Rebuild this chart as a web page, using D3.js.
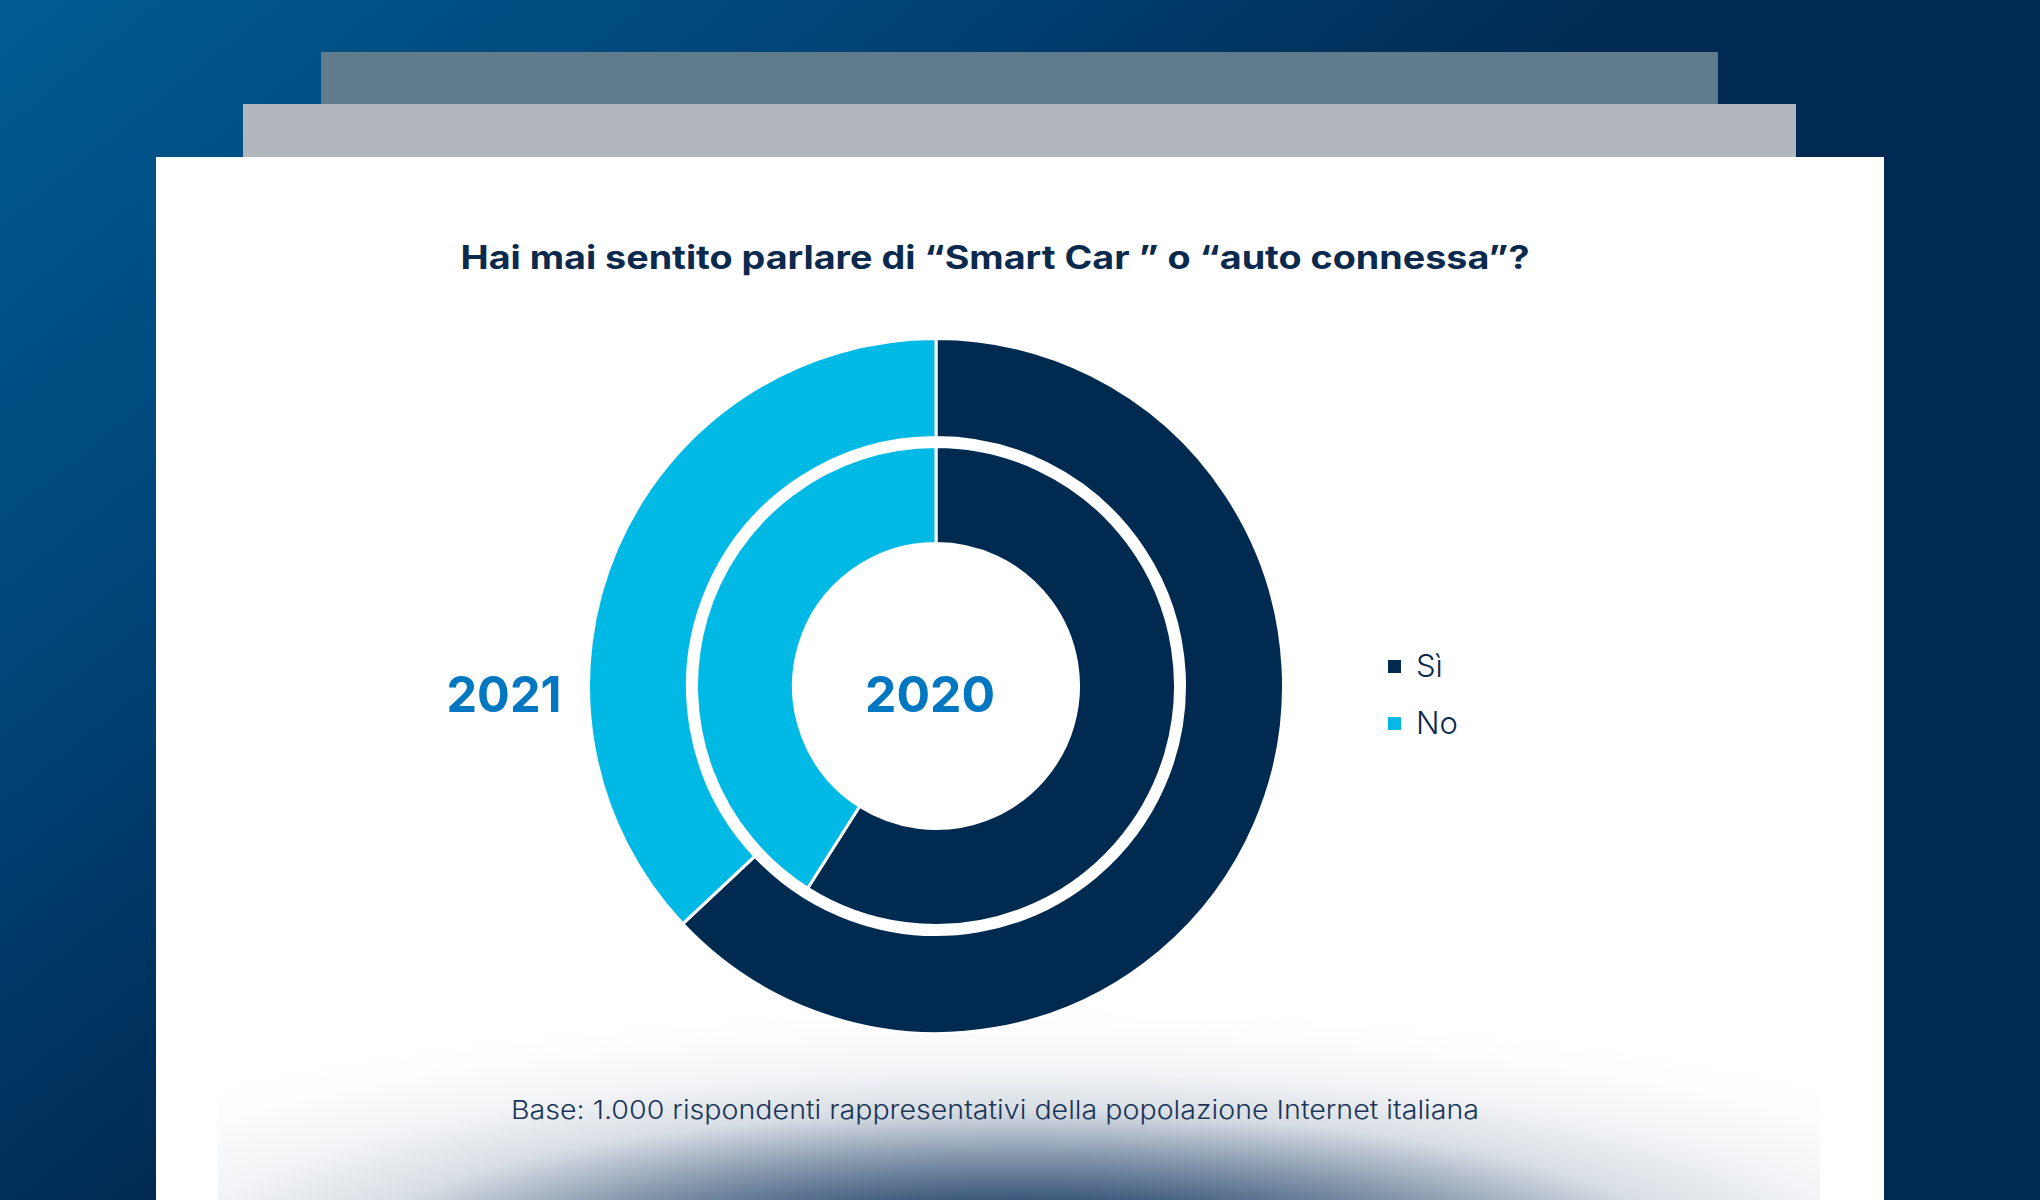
<!DOCTYPE html>
<html><head><meta charset="utf-8">
<script src="https://cdn.jsdelivr.net/npm/d3@7"></script>
<style>html,body{margin:0;padding:0;background:#fff;}svg{display:block;}</style>
</head><body>
<svg id="chart" width="2040" height="1200"></svg>
<script>
// ---- data ----
const title = "Hai mai sentito parlare di “Smart Car ” o “auto connessa”?";
const footnote = "Base: 1.000 rispondenti rappresentativi della popolazione Internet italiana";
const categories = ["Sì", "No"];
const rings = ["2021", "2020"];           // outer ring, inner ring
const values2021 = [63, 37];
const values2020 = [59, 41];
const colors = ["#012a51", "#00bae5"];

const W = 2040, H = 1200;
const svg = d3.select("#chart");
const defs = svg.append("defs");

// background gradient
const bg = defs.append("linearGradient").attr("id", "bg")
  .attr("x1", "0").attr("y1", "0").attr("x2", "0.75").attr("y2", "0.55");
bg.append("stop").attr("offset", "0").attr("stop-color", "#005c91");
bg.append("stop").attr("offset", "0.35").attr("stop-color", "#00467a");
bg.append("stop").attr("offset", "0.7").attr("stop-color", "#002a53");
bg.append("stop").attr("offset", "1").attr("stop-color", "#002a53");
svg.append("rect").attr("width", W).attr("height", H).attr("fill", "url(#bg)");

// stacked sheets
svg.append("rect").attr("x", 321).attr("y", 52).attr("width", 1397).attr("height", 110).attr("fill", "#5f7b8c");
svg.append("rect").attr("x", 243).attr("y", 104).attr("width", 1553).attr("height", 60).attr("fill", "#b1b7bd");
svg.append("rect").attr("x", 156).attr("y", 157).attr("width", 1728).attr("height", H - 157).attr("fill", "#ffffff");

// bottom shadow
const sh = defs.append("radialGradient").attr("id", "shadow")
  .attr("gradientUnits", "userSpaceOnUse")
  .attr("cx", 1018).attr("cy", 1270).attr("r", 1200)
  .attr("gradientTransform", "translate(1018,1270) scale(1,0.2333) translate(-1018,-1270)");
[[0, 0.95], [0.25, 0.85], [0.4, 0.55], [0.57, 0.17], [0.71, 0.06], [0.85, 0.015], [0.95, 0]].forEach(([o, a]) =>
  sh.append("stop").attr("offset", o).attr("stop-color", "#183a62").attr("stop-opacity", a));
svg.append("rect").attr("x", 218).attr("y", 990).attr("width", 1602).attr("height", 210).attr("fill", "url(#shadow)");

// title
svg.append("text").attr("x", 995).attr("y", 269).attr("text-anchor", "middle")
  .attr("font-family", "Inter, 'Open Sans', sans-serif").attr("font-weight", 700)
  .attr("font-size", 32).attr("fill", "#0b2a4d")
  .attr("textLength", 1069).attr("lengthAdjust", "spacingAndGlyphs")
  .text(title);

// donut rings
const cx = 936, cy = 686;
const pie = d3.pie().sort(null).value(d => d);
const ringDefs = [
  { name: rings[0], values: values2021, r0: 248.5, r1: 347.5 },
  { name: rings[1], values: values2020, r0: 142.5, r1: 239.5 }
];
const g = svg.append("g").attr("transform", `translate(${cx},${cy})`);
ringDefs.forEach(rd => {
  const arc = d3.arc().innerRadius(rd.r0).outerRadius(rd.r1);
  g.append("g").selectAll("path").data(pie(rd.values)).join("path")
    .attr("d", arc)
    .attr("fill", (d, i) => colors[i])
    .attr("stroke", "#ffffff").attr("stroke-width", 3);
});

// ring labels
svg.append("text").attr("x", 504).attr("y", 712).attr("text-anchor", "middle")
  .attr("font-family", "Inter, sans-serif").attr("font-weight", 700).attr("font-size", 50)
  .attr("fill", "#0077c0").attr("textLength", 115).attr("lengthAdjust", "spacingAndGlyphs")
  .text(rings[0]);
svg.append("text").attr("x", 930).attr("y", 712).attr("text-anchor", "middle")
  .attr("font-family", "Inter, sans-serif").attr("font-weight", 700).attr("font-size", 50)
  .attr("fill", "#0077c0").attr("textLength", 130).attr("lengthAdjust", "spacingAndGlyphs")
  .text(rings[1]);

// legend
const legend = svg.append("g").attr("transform", "translate(1388,660)");
const li = legend.selectAll("g").data(categories).join("g")
  .attr("transform", (d, i) => `translate(0,${i * 57})`);
li.append("rect").attr("width", 13).attr("height", 13).attr("fill", (d, i) => colors[i]);
li.append("text").attr("x", 28).attr("y", 17)
  .attr("font-family", "Inter, sans-serif").attr("font-weight", 300).attr("font-size", 31)
  .attr("fill", "#0b2a4d").text(d => d);

// footnote
svg.append("text").attr("x", 995).attr("y", 1119).attr("text-anchor", "middle")
  .attr("font-family", "Inter, sans-serif").attr("font-weight", 300).attr("font-size", 26)
  .attr("fill", "#1a3558").attr("textLength", 968).attr("lengthAdjust", "spacingAndGlyphs")
  .text(footnote);
</script>
</body></html>
